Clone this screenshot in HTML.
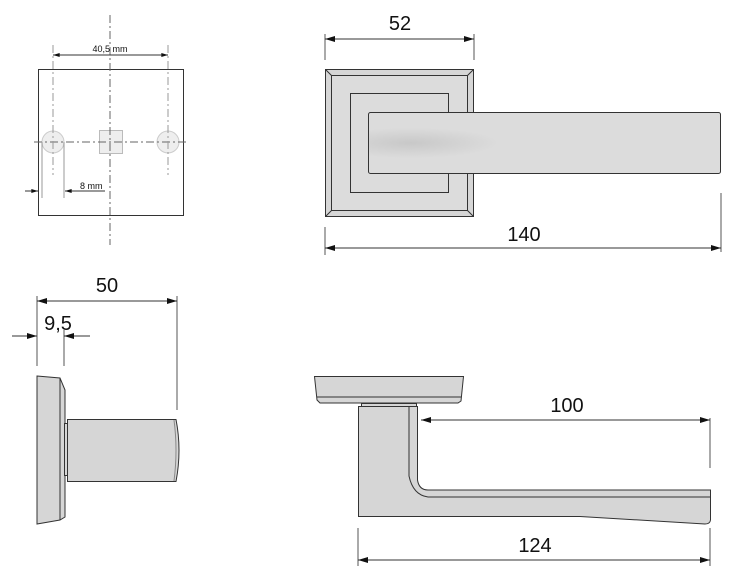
<!DOCTYPE html>
<html><head><style>body{margin:0;background:#fff}svg{display:block}text{font-family:"Liberation Sans",sans-serif;fill:#111}</style></head><body>
<svg width="735" height="578" viewBox="0 0 735 578" xmlns="http://www.w3.org/2000/svg">
<defs>
<marker id="a" viewBox="0 0 10 6" refX="10" refY="3" markerWidth="10" markerHeight="6" orient="auto-start-reverse" markerUnits="userSpaceOnUse"><path d="M0,0L10,3L0,6Z" fill="#111"/></marker>
<marker id="s" viewBox="0 0 10 6" refX="10" refY="3" markerWidth="7" markerHeight="4" orient="auto-start-reverse" markerUnits="userSpaceOnUse"><path d="M0,0L10,3L0,6Z" fill="#111"/></marker>
<radialGradient id="g" cx="0.12" cy="0.5" r="0.25"><stop offset="0" stop-color="#c8c8c8"/><stop offset="1" stop-color="#dcdcdc"/></radialGradient>
</defs>
<!-- top-left plate -->
<g stroke-width="1" fill="none">
<rect x="38.5" y="69.5" width="145" height="146" stroke="#333"/>
<circle cx="53" cy="142" r="11" fill="#eee" stroke="#ccc"/>
<circle cx="168" cy="142" r="11" fill="#eee" stroke="#ccc"/>
<rect x="99.5" y="130.5" width="23" height="23" fill="#eee" stroke="#bbb"/>
<line x1="110" y1="15" x2="110" y2="245" stroke="#666" stroke-dasharray="8,3,2,3"/>
<line x1="34" y1="142" x2="188" y2="142" stroke="#666" stroke-dasharray="8,3,2,3"/>
<line x1="53" y1="45" x2="53" y2="175" stroke="#999" stroke-dasharray="8,3,2,3"/>
<line x1="168" y1="45" x2="168" y2="175" stroke="#999" stroke-dasharray="8,3,2,3"/>
<line x1="42" y1="142" x2="42" y2="198" stroke="#999"/>
<line x1="64" y1="142" x2="64" y2="198" stroke="#999"/>
<line x1="53" y1="55" x2="168" y2="55" stroke="#333" marker-start="url(#s)" marker-end="url(#s)"/>
<line x1="25" y1="191" x2="38" y2="191" stroke="#333" marker-end="url(#s)"/>
<line x1="65" y1="191" x2="105" y2="191" stroke="#333" marker-start="url(#s)"/>
</g>
<text x="110" y="52" font-size="9" text-anchor="middle">40,5 mm</text>
<text x="80" y="189" font-size="9">8 mm</text>
<!-- top-right -->
<g stroke="#333" stroke-width="1">
<rect x="325.5" y="69.5" width="148" height="147" fill="#d6d6d6"/>
<rect x="331.5" y="75.5" width="136" height="135" fill="#dcdcdc"/>
<path d="M325.5 69.5L331.5 75.5M473.5 69.5L467.5 75.5M325.5 216.5L331.5 210.5M473.5 216.5L467.5 210.5" fill="none"/>
<rect x="350.5" y="93.5" width="98" height="99" fill="#dcdcdc"/>
<rect x="368.5" y="112.5" width="352" height="61" rx="2" fill="url(#g)"/>
<line x1="325" y1="34" x2="325" y2="60" stroke="#555"/>
<line x1="474" y1="34" x2="474" y2="60" stroke="#555"/>
<line x1="325" y1="227" x2="325" y2="255" stroke="#555"/>
<line x1="721" y1="193" x2="721" y2="252" stroke="#555"/>
<line x1="325" y1="39" x2="474" y2="39" marker-start="url(#a)" marker-end="url(#a)"/>
<line x1="325" y1="248" x2="721" y2="248" marker-start="url(#a)" marker-end="url(#a)"/>
</g>
<text x="400" y="30" font-size="20" text-anchor="middle">52</text>
<text x="524" y="241" font-size="20" text-anchor="middle">140</text>
<!-- bottom-left -->
<g stroke="#333" stroke-width="1">
<line x1="37" y1="296" x2="37" y2="366" stroke="#555"/>
<line x1="64" y1="330" x2="64" y2="366" stroke="#555"/>
<line x1="177" y1="296" x2="177" y2="410" stroke="#555"/>
<line x1="37" y1="301" x2="177" y2="301" marker-start="url(#a)" marker-end="url(#a)"/>
<line x1="12" y1="336" x2="37" y2="336" marker-end="url(#a)"/>
<line x1="64" y1="336" x2="90" y2="336" marker-start="url(#a)"/>
<path d="M37 376L60 378L65 390L65 517L60 520L37 524Z" fill="#d6d6d6"/>
<line x1="60" y1="378" x2="60" y2="520"/>
<rect x="64.5" y="423.5" width="3" height="52" fill="#d6d6d6"/>
<path d="M67.5 419.5L176 419.5Q182 450 176 481.5L67.5 481.5Z" fill="#d6d6d6"/>
<path d="M174 420Q178 450 174 481" fill="none" stroke="#888"/>
</g>
<text x="107" y="292" font-size="20" text-anchor="middle">50</text>
<text x="58" y="330" font-size="20" text-anchor="middle">9,5</text>
<!-- bottom-right -->
<g stroke="#333" stroke-width="1">
<path d="M314.5 376.5L463.5 376.5L461 401L458 403L320 403L317 400Z" fill="#d6d6d6"/>
<line x1="317" y1="397" x2="461" y2="397"/>
<rect x="361.5" y="403.5" width="55" height="3" fill="#d6d6d6"/>
<path d="M358.5 406.5L417.5 406.5L417.5 480Q419 490 428 490L710.5 490L710.5 520Q710 524 705 524L580 516.5L358.5 516.5Z" fill="#d6d6d6"/>
<path d="M409 406.5L409 476Q413 495 428 497L710 497" fill="none"/>
<line x1="710" y1="418" x2="710" y2="468" stroke="#555"/>
<line x1="358" y1="528" x2="358" y2="566" stroke="#555"/>
<line x1="710" y1="528" x2="710" y2="566" stroke="#555"/>
<line x1="421" y1="420" x2="710" y2="420" marker-start="url(#a)" marker-end="url(#a)"/>
<line x1="358" y1="560" x2="710" y2="560" marker-start="url(#a)" marker-end="url(#a)"/>
</g>
<text x="567" y="412" font-size="20" text-anchor="middle">100</text>
<text x="535" y="552" font-size="20" text-anchor="middle">124</text>
</svg>
</body></html>
